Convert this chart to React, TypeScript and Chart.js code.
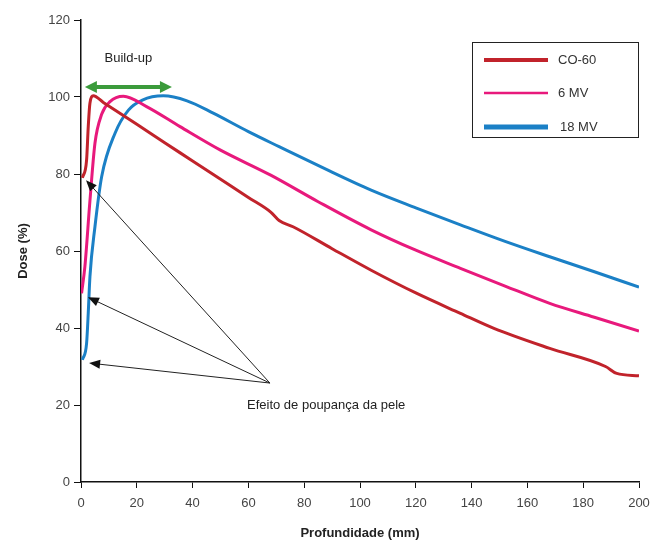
import React, { useEffect, useRef } from "react";
import { Chart, registerables } from "chart.js";

Chart.register(...registerables);

// ---- data ----
const seriesNames = ["CO-60", "6 MV", "18 MV"];
const seriesColors = ["#c1232b", "#e8197c", "#1b80c6"];

const co60Depth = [0.5, 2, 2.6, 3.2, 4.4, 8, 20, 30, 40, 60, 68, 71, 76, 90, 104, 120, 136, 148, 168, 188, 192, 200];
const co60Dose = [79, 83.6, 92.3, 98.4, 100.3, 98.6, 92.9, 88.1, 83.4, 73.9, 70.1, 67.9, 66.3, 60.6, 55, 49.1, 43.8, 39.9, 34.7, 30, 28.2, 27.6];

const mv6Depth = [0.2, 1.4, 3.2, 5, 7.4, 10.4, 15.2, 23.5, 35.5, 50, 68, 85, 104, 120, 136, 152, 168, 184, 200];
const mv6Dose = [49, 56, 73, 88, 95.5, 98.8, 100.2, 97.5, 92.3, 86.2, 79.7, 72.8, 65.5, 60.2, 55.5, 50.9, 46.4, 42.8, 39.2];

const mv18Depth = [0.5, 2, 2.6, 3.2, 5, 7.4, 12.2, 17, 22, 29.5, 38, 47.4, 60, 71, 87, 104, 120, 136, 152, 168, 184, 200];
const mv18Dose = [31.7, 36, 43.9, 53.3, 66.3, 79.3, 90.6, 96.6, 99.2, 100.3, 99, 95.8, 91, 87.1, 81.5, 75.8, 71.2, 66.8, 62.5, 58.5, 54.6, 50.6];

const xTickValues = [0, 20, 40, 60, 80, 100, 120, 140, 160, 180, 200];
const yTickValues = [0, 20, 40, 60, 80, 100, 120];

const xTitle = "Profundidade (mm)";
const yTitle = "Dose (%)";
const buildUpLabel = "Build-up";
const buildUpRange = [1.4, 32.6];
const buildUpLevel = 102.6;
const skinLabel = "Efeito de poupança da pele";
const skinOrigin = [67.7, 25.7];
const skinTargets = [
  [1.8, 78.4],
  [2.5, 48],
  [2.9, 30.9],
];

const FONT = "'Liberation Sans', Arial, sans-serif";

function arrowHead(ctx: CanvasRenderingContext2D, x0: number, y0: number, x1: number, y1: number, len: number, half: number) {
  const a = Math.atan2(y1 - y0, x1 - x0);
  ctx.beginPath();
  ctx.moveTo(x1, y1);
  ctx.lineTo(x1 - len * Math.cos(a) + half * Math.sin(a), y1 - len * Math.sin(a) - half * Math.cos(a));
  ctx.lineTo(x1 - len * Math.cos(a) - half * Math.sin(a), y1 - len * Math.sin(a) + half * Math.cos(a));
  ctx.closePath();
  ctx.fill();
}

const annotPlugin = {
  id: "annot",
  afterDatasetsDraw(chart: any) {
    const { ctx, scales } = chart;
    const x = scales.x;
    const y = scales.y;
    ctx.save();
    // green build-up double arrow
    const gx0 = x.getPixelForValue(buildUpRange[0]);
    const gx1 = x.getPixelForValue(buildUpRange[1]);
    const gy = y.getPixelForValue(buildUpLevel);
    ctx.strokeStyle = "#3b9b3b";
    ctx.fillStyle = "#3b9b3b";
    ctx.lineWidth = 4;
    ctx.beginPath();
    ctx.moveTo(gx0 + 8, gy);
    ctx.lineTo(gx1 - 8, gy);
    ctx.stroke();
    arrowHead(ctx, gx1, gy, gx0, gy, 12, 6);
    arrowHead(ctx, gx0, gy, gx1, gy, 12, 6);

    ctx.fillStyle = "#222";
    ctx.font = `13px ${FONT}`;
    ctx.textAlign = "center";
    ctx.textBaseline = "middle";
    ctx.fillText(buildUpLabel, x.getPixelForValue((buildUpRange[0] + buildUpRange[1]) / 2), y.getPixelForValue(110));

    // skin sparing arrows
    const ox = x.getPixelForValue(skinOrigin[0]);
    const oy = y.getPixelForValue(skinOrigin[1]);
    ctx.strokeStyle = "#222";
    ctx.fillStyle = "#111";
    ctx.lineWidth = 1;
    for (const t of skinTargets) {
      const tx = x.getPixelForValue(t[0]);
      const ty = y.getPixelForValue(t[1]);
      const a = Math.atan2(ty - oy, tx - ox);
      ctx.beginPath();
      ctx.moveTo(ox, oy);
      ctx.lineTo(tx - 8 * Math.cos(a), ty - 8 * Math.sin(a));
      ctx.stroke();
      arrowHead(ctx, ox, oy, tx, ty, 11, 4.5);
    }
    ctx.fillStyle = "#222";
    ctx.textAlign = "left";
    ctx.fillText(skinLabel, x.getPixelForValue(59.5), y.getPixelForValue(20));

    // legend box
    const bx = 472, by = 42, bw = 166, bh = 95;
    ctx.strokeStyle = "#222";
    ctx.lineWidth = 1;
    ctx.strokeRect(bx + 0.5, by + 0.5, bw, bh);
    const rows = [60, 93, 127];
    const widths = [4, 2.5, 5];
    seriesNames.forEach((name, i) => {
      ctx.strokeStyle = seriesColors[i];
      ctx.lineWidth = widths[i];
      ctx.beginPath();
      ctx.moveTo(484, rows[i]);
      ctx.lineTo(548, rows[i]);
      ctx.stroke();
      ctx.fillStyle = "#333";
      ctx.font = `13px ${FONT}`;
      ctx.textAlign = "left";
      ctx.textBaseline = "middle";
      ctx.fillText(name, i === 2 ? 560 : 558, rows[i]);
    });
    ctx.restore();
  },
};

export default function App() {
  const ref = useRef<HTMLCanvasElement | null>(null);
  useEffect(() => {
    if (!ref.current) return;
    const mk = (xs: number[], ys: number[]) => xs.map((v, i) => ({ x: v, y: ys[i] }));
    const chart = new Chart(ref.current, {
      type: "line",
      data: {
        datasets: [
          { label: seriesNames[0], data: mk(co60Depth, co60Dose), borderColor: seriesColors[0], borderWidth: 3, pointRadius: 0, cubicInterpolationMode: "monotone", fill: false },
          { label: seriesNames[1], data: mk(mv6Depth, mv6Dose), borderColor: seriesColors[1], borderWidth: 3, pointRadius: 0, cubicInterpolationMode: "monotone", fill: false },
          { label: seriesNames[2], data: mk(mv18Depth, mv18Dose), borderColor: seriesColors[2], borderWidth: 3, pointRadius: 0, cubicInterpolationMode: "monotone", fill: false },
        ],
      },
      options: {
        animation: false,
        responsive: true,
        maintainAspectRatio: false,
        layout: { padding: { top: 20, right: 14, left: 0, bottom: 0 } },
        plugins: { legend: { display: false }, tooltip: { enabled: false } },
        scales: {
          x: {
            type: "linear",
            min: 0,
            max: 200,
            afterFit: (s: any) => { s.height = 63; s.paddingRight = 0; s.paddingLeft = 0; },
            afterBuildTicks: (s: any) => { s.ticks = xTickValues.map((v) => ({ value: v })); },
            grid: { display: true, drawOnChartArea: false, drawTicks: true, tickLength: 6, color: "#111", lineWidth: 1 },
            border: { display: true, color: "#111", width: 1.5 },
            ticks: { color: "#444", font: { family: FONT, size: 13 }, padding: 8, maxRotation: 0 },
            title: { display: true, text: xTitle, color: "#222", font: { family: FONT, size: 13, weight: "bold" }, padding: { top: 0, bottom: 4 } },
          },
          y: {
            type: "linear",
            min: 0,
            max: 120,
            afterFit: (s: any) => { s.width = 81; s.paddingTop = 0; s.paddingBottom = 0; },
            afterBuildTicks: (s: any) => { s.ticks = yTickValues.map((v) => ({ value: v })); },
            grid: { display: true, drawOnChartArea: false, drawTicks: true, tickLength: 7, color: "#111", lineWidth: 1 },
            border: { display: true, color: "#111", width: 1.5 },
            ticks: { color: "#444", font: { family: FONT, size: 13 }, padding: 4 },
            title: { display: true, text: yTitle, color: "#222", font: { family: FONT, size: 13, weight: "bold" }, padding: { top: 16, bottom: 0 } },
          },
        },
      },
      plugins: [annotPlugin],
    } as any);
    return () => chart.destroy();
  }, []);
  return (
    <div style={{ position: "fixed", left: 0, top: 0, width: 653, height: 545, background: "#fff" }}>
      <canvas ref={ref} />
    </div>
  );
}
